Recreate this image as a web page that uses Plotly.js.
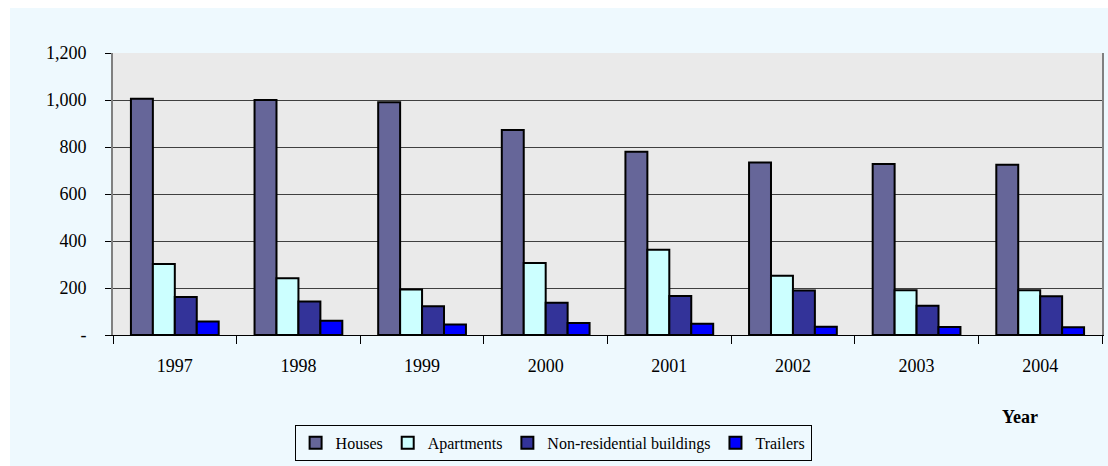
<!DOCTYPE html>
<html>
<head>
<meta charset="utf-8">
<script src="https://cdn.plot.ly/plotly-3.0.1.min.js"></script>
<style>
  body { margin: 0; background: #ffffff; }
  #plot { position: absolute; left: 10px; top: 8px; width: 1098px; height: 458px; }
</style>
</head>
<body>
<div id="plot"></div>
<script>
const years = ['1997', '1998', '1999', '2000', '2001', '2002', '2003', '2004'];
const houses = [1005, 1000, 990, 872, 780, 734, 728, 725];
const apartments = [302, 241, 194, 306, 363, 252, 190, 190];
const nonResidential = [162, 143, 122, 137, 166, 189, 125, 165];
const trailers = [57, 61, 45, 51, 48, 35, 34, 33];

const yTicks = [0, 200, 400, 600, 800, 1000, 1200];
const yLabels = ['-', '200', '400', '600', '800', '1,000', '1,200'];

const names = ['Houses', 'Apartments', 'Non-residential buildings', 'Trailers'];
const colors = ['#666699', '#ccffff', '#333399', '#0000ff'];
const series = [houses, apartments, nonResidential, trailers];

const traces = series.map((vals, i) => ({
  type: 'bar',
  name: names[i],
  x: years,
  y: vals,
  marker: { color: colors[i], line: { color: '#000000', width: 2 } },
  hoverinfo: 'x+y+name'
}));

const serif = '"Liberation Serif", "Times New Roman", serif';
const tickFont = { family: serif, size: 18, color: '#000000' };
const legendFont = { family: serif, size: 16, color: '#000000' };

Plotly.newPlot('plot', traces, {
  width: 1098,
  height: 458,
  paper_bgcolor: '#eef9fe',
  plot_bgcolor: '#eaeaea',
  font: tickFont,
  margin: { l: 103, r: 6, t: 45, b: 130 },
  barmode: 'group',
  bargap: 0.29,
  bargroupgap: 0,
  showlegend: true,
  xaxis: {
    type: 'category',
    tickson: 'boundaries',
    ticks: 'outside',
    ticklen: 8,
    tickcolor: '#000000',
    tickfont: tickFont,
    showline: true,
    linecolor: '#000000',
    linewidth: 1,
    ticklabelstandoff: 14,
    showgrid: false
  },
  yaxis: {
    range: [0, 1200],
    tickvals: yTicks,
    ticktext: yLabels,
    ticks: 'outside',
    ticklen: 6,
    tickcolor: '#000000',
    tickfont: tickFont,
    showline: true,
    linecolor: '#808080',
    linewidth: 2,
    mirror: true,
    gridcolor: '#404040',
    gridwidth: 1,
    zeroline: false,
    ticklabelstandoff: 15
  },
  legend: {
    orientation: 'h',
    x: 0.445,
    xanchor: 'center',
    y: -0.314,
    yanchor: 'top',
    bordercolor: '#000000',
    borderwidth: 1,
    bgcolor: '#eef9fe',
    font: legendFont,
    itemwidth: 30,
    traceorder: 'normal'
  },
  annotations: [{
    text: '<b>Year</b>',
    xref: 'paper',
    yref: 'paper',
    x: 0.917,
    y: -0.29,
    xanchor: 'center',
    yanchor: 'middle',
    showarrow: false,
    font: tickFont
  }]
}, { displayModeBar: false });
</script>
</body>
</html>
